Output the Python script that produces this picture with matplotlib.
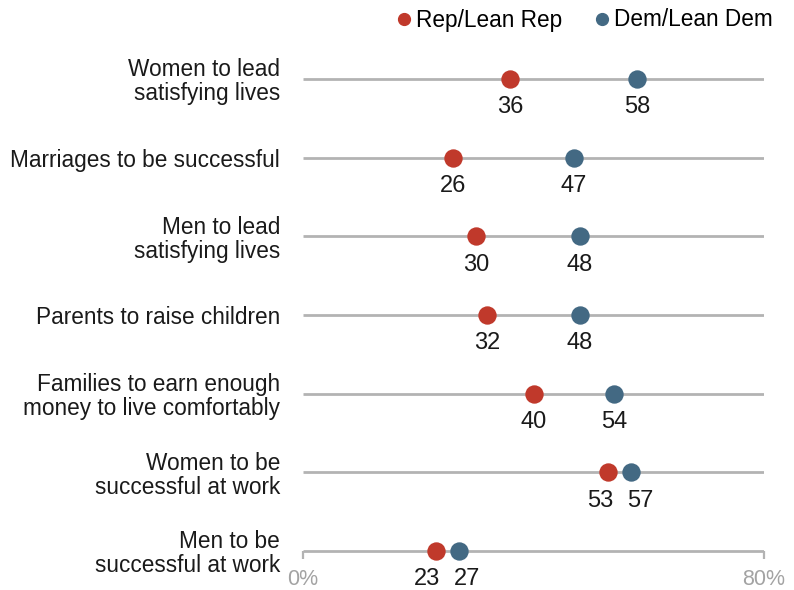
import matplotlib
matplotlib.use("Agg")
import matplotlib.pyplot as plt
from matplotlib.lines import Line2D

plt.rcParams['font.family'] = ['Liberation Sans', 'DejaVu Sans']

categories = [
    "Women to lead\nsatisfying lives",
    "Marriages to be successful",
    "Men to lead\nsatisfying lives",
    "Parents to raise children",
    "Families to earn enough\nmoney to live comfortably",
    "Women to be\nsuccessful at work",
    "Men to be\nsuccessful at work",
]
rep_values = [36, 26, 30, 32, 40, 53, 23]
dem_values = [58, 47, 48, 48, 54, 57, 27]
series_names = ["Rep/Lean Rep", "Dem/Lean Dem"]
x_ticks = [0, 80]
x_tick_labels = ["0%", "80%"]

REP = "#C0392B"
DEM = "#436983"
LINE = "#B3B3B3"

fig = plt.figure(figsize=(7.94, 5.9), dpi=100)
W, H = 794, 590
row_top, row_bot = 79, 551
n = len(categories)
step = (row_bot - row_top) / (n - 1)
ylo, yhi = -0.6, n - 1 + 0.45
top_px = row_top - 0.6 * step
bot_px = row_bot + 0.45 * step
ax = fig.add_axes([303 / W, 1 - bot_px / H, (764 - 303) / W, (bot_px - top_px) / H])
ax.set_xlim(0, 80)
ax.set_ylim(yhi, ylo)

ys = list(range(n))
ax.hlines(ys, 0, 80, color=LINE, lw=2, zorder=1)
ax.scatter(rep_values, ys, s=175, color=REP, zorder=3, linewidths=0)
ax.scatter(dem_values, ys, s=175, color=DEM, zorder=3, linewidths=0)

px_per_pt = 100 / 72
px_per_unit = (764 - 303) / 80
for y, r, d in zip(ys, rep_values, dem_values):
    if abs(d - r) < 8:
        mid = (r + d) / 2
        r_off = ((mid - r) * px_per_unit - 20) / px_per_pt
        d_off = ((mid - d) * px_per_unit + 20) / px_per_pt
    else:
        r_off = d_off = 0
    ax.annotate(str(r), (r, y), xytext=(r_off, -20.5), textcoords="offset points",
                ha="center", va="center", fontsize=17, color="#1a1a1a")
    ax.annotate(str(d), (d, y), xytext=(d_off, -20.5), textcoords="offset points",
                ha="center", va="center", fontsize=17, color="#1a1a1a")

ax.set_yticks(ys)
ax.set_yticklabels(categories, fontsize=16.3, color="#1a1a1a", linespacing=1.05)
ax.tick_params(axis="y", length=0, pad=16.5)

ax.spines["bottom"].set_position(("data", n - 1))
for s in ["top", "right", "left", "bottom"]:
    ax.spines[s].set_visible(False)
ax.set_xticks(x_ticks)
ax.set_xticklabels(x_tick_labels, fontsize=15.5, color="#A3A3A3")
ax.tick_params(axis="x", direction="out", length=6, width=1.6, color=LINE, pad=7)

handles = [
    Line2D([], [], marker="o", ls="", color=REP, markersize=8.5, label=series_names[0]),
    Line2D([], [], marker="o", ls="", color=DEM, markersize=8.5, label=series_names[1]),
]
fig.legend(handles=handles, loc="center right", bbox_to_anchor=(773 / W, 1 - 20 / H), ncol=2,
           frameon=False, fontsize=16.3, handletextpad=0.23, columnspacing=1.47,
           handlelength=0.6, borderpad=0, borderaxespad=0)

fig.savefig("out.png", dpi=100)
